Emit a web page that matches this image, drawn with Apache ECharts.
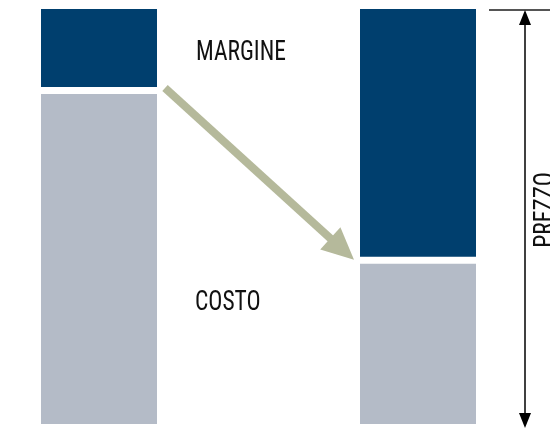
<!DOCTYPE html>
<html>
<head>
<meta charset="utf-8">
<script src="https://cdn.jsdelivr.net/npm/echarts@6/dist/echarts.min.js"></script>
<style>
    html, body {margin: 0; padding: 0; background: #fff;}
    #chart {width: 550px; height: 430px;}
</style>
</head>
<body>
<div id="chart"></div>
<script>
    // barre: prima / dopo (prezzo = 100)
    var categories = ['PRIMA', 'DOPO'];
    var costo = [79.5, 38.6];
    var stacco = [1.7, 1.7];
    var margine = [18.8, 59.7];
    var labels = ['MARGINE', 'COSTO', 'PREZZO'];

    var FONT = "'Liberation Sans Narrow', 'Roboto Condensed', 'Roboto', sans-serif";
    var chart = echarts.init(document.getElementById('chart'));

    chart.setOption({
        animation: false,
        grid: {left: 99, right: 132, top: 9, bottom: 6},
        xAxis: {type: 'category', data: categories, boundaryGap: false, show: false},
        yAxis: {type: 'value', min: 0, max: 100, show: false},
        series: [
            {name: 'COSTO', type: 'bar', stack: 'p', barWidth: 116, clip: false,
                data: costo, itemStyle: {color: '#b4bbc7'}},
            {name: 'stacco', type: 'bar', stack: 'p', barWidth: 116, clip: false, silent: true,
                data: stacco, itemStyle: {color: 'rgba(0,0,0,0)'}},
            {name: 'MARGINE', type: 'bar', stack: 'p', barWidth: 116, clip: false,
                data: margine, itemStyle: {color: '#003f6e'}}
        ]
    });

    // annotazioni agganciate alle barre
    function px(i, v) {
        return chart.convertToPixel({gridIndex: 0}, [i, v]);
    }
    var half = 58;
    var l0 = px(0, costo[0]);
    var l1 = px(1, costo[1]);
    var top1 = px(1, 100);
    var bot1 = px(1, 0);

    // freccia verde
    var sx = l0[0] + half + 8, sy = l0[1] - 6;
    var tx = l1[0] - half - 6, ty = l1[1] - 4;
    var dx = tx - sx, dy = ty - sy, len = Math.sqrt(dx * dx + dy * dy);
    var ux = dx / len, uy = dy / len;
    var headL = 32, headW = 15;
    var bx = tx - ux * headL, by = ty - uy * headL;

    // quota prezzo
    var qx = l1[0] + half + 49;
    var qTop = top1[1] + 1, qBot = bot1[1] + 4;
    var txt = {font: '27px ' + FONT, fill: '#111', verticalAlign: 'middle'};

    chart.setOption({
        graphic: [
            {type: 'line', shape: {x1: sx, y1: sy, x2: bx + ux, y2: by + uy},
                style: {stroke: '#b5b99b', lineWidth: 8}},
            {type: 'polygon', shape: {points: [[tx, ty],
                    [bx - uy * headW, by + ux * headW], [bx + uy * headW, by - ux * headW]]},
                style: {fill: '#b5b99b'}},
            {type: 'line', shape: {x1: qx - 36, y1: qTop, x2: 552, y2: qTop},
                style: {stroke: '#555', lineWidth: 2}},
            {type: 'line', shape: {x1: qx, y1: qTop + 10, x2: qx, y2: qBot - 10},
                style: {stroke: '#000', lineWidth: 1.5}},
            {type: 'polygon', shape: {points: [[qx, qTop], [qx - 6, qTop + 15], [qx + 6, qTop + 15]]},
                style: {fill: '#000'}},
            {type: 'polygon', shape: {points: [[qx, qBot], [qx - 6, qBot - 15], [qx + 6, qBot - 15]]},
                style: {fill: '#000'}},
            {type: 'text', x: l0[0] + half + 39, y: px(0, 100)[1] + 44, scaleX: 0.87,
                style: Object.assign({text: labels[0]}, txt)},
            {type: 'text', x: l0[0] + half + 38, y: l0[1] + 209, scaleX: 0.87,
                style: Object.assign({text: labels[1]}, txt)},
            {type: 'text', x: qx + 21, y: (qTop + qBot) / 2 - 9, rotation: Math.PI / 2, scaleX: 0.87,
                style: Object.assign({text: labels[2], align: 'center'}, txt)}
        ]
    });
</script>
</body>
</html>
